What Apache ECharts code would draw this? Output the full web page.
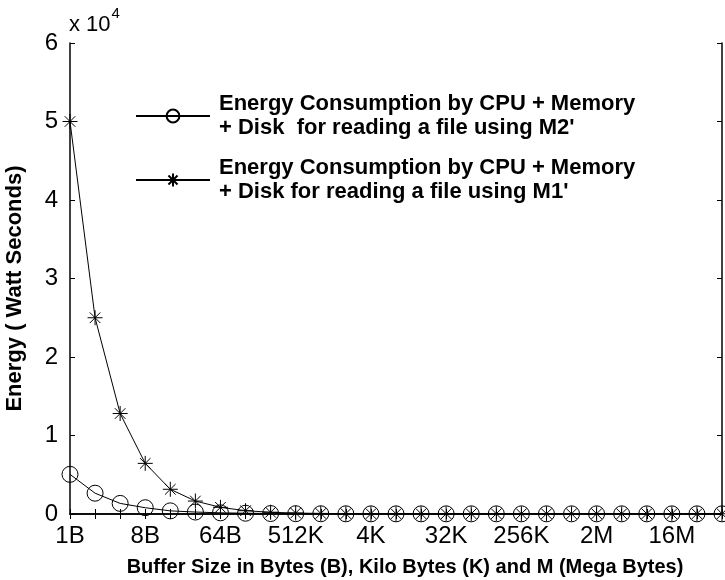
<!DOCTYPE html>
<html>
<head>
<meta charset="utf-8">
<script src="https://cdn.jsdelivr.net/npm/echarts@6/dist/echarts.min.js"></script>
<style>
  html, body { margin: 0; padding: 0; background: #fff; }
  #chart { width: 725px; height: 580px; }
</style>
</head>
<body>
<div id="chart"></div>
<script>
// Buffer sizes, doubling from 1 byte up to 64 MB
const bufferSizes = [
  '1B', '2B', '4B', '8B', '16B', '32B', '64B', '128B', '256B',
  '512K', '1K', '2K', '4K', '8K', '16K', '32K', '64K', '128K',
  '256K', '512K', '1M', '2M', '4M', '8M', '16M', '32M', '64M'
];

// Energy in Watt Seconds
const energyM2 = [
  5050, 2650, 1350, 800, 400, 250, 150, 100, 60,
  40, 30, 25, 20, 20, 20, 20, 20, 20,
  20, 20, 20, 20, 20, 20, 20, 20, 20
];
const energyM1 = [
  50000, 25000, 12800, 6450, 3150, 1650, 850, 420, 220,
  120, 70, 50, 40, 30, 30, 30, 30, 30,
  30, 30, 30, 30, 30, 30, 30, 30, 30
];

const seriesNames = [
  "Energy Consumption by CPU + Memory\n+ Disk  for reading a file using M2'",
  "Energy Consumption by CPU + Memory\n+ Disk for reading a file using M1'"
];

const yScale = 1e4;

const FONT = '"Liberation Sans", Arial, Helvetica, sans-serif';
const asterisk = 'path://M0,-10L0,10M-10,0L10,0M-7.07,-7.07L7.07,7.07M-7.07,7.07L7.07,-7.07';

const chart = echarts.init(document.getElementById('chart'), null, { renderer: 'canvas' });

const xBase = {
  type: 'category',
  data: bufferSizes,
  boundaryGap: false,
  axisLine: { lineStyle: { color: '#000', width: 1.5 } },
  axisTick: { inside: true, length: 5, interval: 0, lineStyle: { color: '#000' } },
  splitLine: { show: false }
};
const yBase = {
  type: 'value',
  min: 0,
  max: 6 * yScale,
  interval: yScale,
  axisLine: { show: true, lineStyle: { color: '#000', width: 1.5 } },
  axisTick: { show: true, inside: true, length: 5, lineStyle: { color: '#000' } },
  splitLine: { show: false }
};

chart.setOption({
  animation: false,
  backgroundColor: '#fff',
  textStyle: { fontFamily: FONT },
  grid: { left: 70, right: 3, top: 43, bottom: 66, containLabel: false, outerBoundsMode: 'none' },
  xAxis: [
    Object.assign({}, xBase, {
      position: 'bottom',
      name: 'Buffer Size in Bytes (B), Kilo Bytes (K) and M (Mega Bytes)',
      nameLocation: 'middle',
      nameGap: 43,
      nameTextStyle: { color: '#000', fontSize: 20, fontWeight: 'bold', fontFamily: FONT, padding: [0, 0, 0, 18] },
      axisLabel: {
        interval: 2,
        color: '#000',
        fontSize: 24,
        fontFamily: FONT,
        margin: 10
      }
    }),
    Object.assign({}, xBase, {
      position: 'top',
      axisLabel: { show: false }
    })
  ],
  yAxis: [
    Object.assign({}, yBase, {
      position: 'left',
      name: 'Energy ( Watt Seconds)',
      nameLocation: 'middle',
      nameGap: 44,
      nameTextStyle: { color: '#000', fontSize: 22, fontWeight: 'bold', fontFamily: FONT, padding: [0, 20, 0, 0] },
      axisLabel: {
        color: '#000',
        fontSize: 24,
        fontFamily: FONT,
        margin: 12,
        formatter: v => String(v / yScale)
      }
    }),
    Object.assign({}, yBase, {
      position: 'right',
      axisLabel: { show: false }
    })
  ],
  graphic: [{
    type: 'text',
    left: 69,
    top: 6,
    style: {
      text: '{a|x 10}{b|4}',
      rich: {
        a: { fontSize: 22, fill: '#000', fontFamily: FONT, verticalAlign: 'bottom', lineHeight: 30 },
        b: { fontSize: 15, fill: '#000', fontFamily: FONT, verticalAlign: 'top', lineHeight: 30, padding: [0, 0, 12, 1] }
      }
    }
  }],
  legend: {
    orient: 'vertical',
    left: 135,
    top: 92,
    padding: 0,
    itemWidth: 74,
    itemHeight: 16,
    itemGap: 16,
    data: seriesNames,
    textStyle: {
      color: '#000',
      fontSize: 22,
      fontWeight: 'bold',
      fontFamily: FONT,
      lineHeight: 24,
      padding: [0, 0, 0, 4]
    }
  },
  series: [
    {
      name: seriesNames[0],
      type: 'line',
      data: energyM2,
      symbol: 'circle',
      symbolSize: 16,
      showAllSymbol: true,
      lineStyle: { color: '#000', width: 1 },
      itemStyle: { color: 'rgba(0,0,0,0)', borderColor: '#000', borderWidth: 1 },
      clip: false
    },
    {
      name: seriesNames[1],
      type: 'line',
      data: energyM1,
      symbol: asterisk,
      symbolSize: 15,
      showAllSymbol: true,
      lineStyle: { color: '#000', width: 1 },
      itemStyle: { color: 'rgba(0,0,0,0)', borderColor: '#000', borderWidth: 1 },
      clip: false
    }
  ]
});
</script>
</body>
</html>
